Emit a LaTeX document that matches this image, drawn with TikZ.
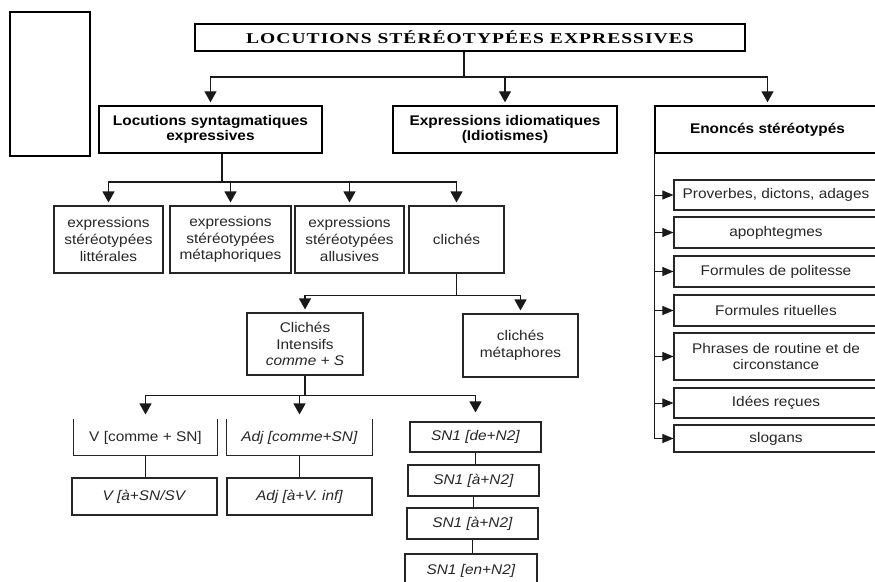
\documentclass[tikz,border=0pt]{standalone}
\usepackage{fontspec}
\setmainfont{Liberation Sans}[FakeStretch=1.1]
\newfontfamily\titrefont{Liberation Serif}[FakeStretch=1.3,LetterSpace=7]
\usetikzlibrary{arrows.meta}

\tikzset{
  trait/.style={line width=1.2pt, draw=black!90},
  arr/.style={trait, -{Triangle[width=12pt,length=11pt]}, shorten >=3pt},
  sarr/.style={line width=0.9pt, draw=black!90, -{Triangle[width=9pt,length=11pt]}},
  box/.style={draw=black!85, line width=1.1pt, align=center, inner sep=1pt,
    text=black!85, font=\fontsize{14}{16.7}\selectfont},
  topbox/.style={box, draw=black, line width=1.4pt, minimum height=47pt, text=black,
    font=\bfseries\fontsize{14}{15.7}\selectfont},
  listbox/.style={box, minimum width=204pt},
  nobox/.style={box, draw=none}
}

\begin{document}
\begin{tikzpicture}[x=1pt, y=-1pt]
  \useasboundingbox (0,0) rectangle (875,581);
  % cadre vide et titre
  \node[draw, line width=1.4pt, minimum width=80pt, minimum height=144pt] (vide) at (50,84) {};
  \node[draw, line width=2pt, minimum width=550pt, minimum height=27pt,
    font=\titrefont\bfseries\fontsize{15}{16}\selectfont] (titre) at (470,37.5)
    {LOCUTIONS STÉRÉOTYPÉES EXPRESSIVES};

  % premier niveau
  \node[topbox, minimum width=223pt] (synt) at (210.5,129.5) {Locutions syntagmatiques\\expressives};
  \node[topbox, minimum width=224pt] (idio) at (505,129.5) {Expressions idiomatiques\\(Idiotismes)};
  \node[topbox, minimum width=225pt] (enon) at (767.5,129.5) {Enoncés stéréotypés};

  % locutions syntagmatiques
  \node[box, minimum width=109pt, minimum height=67pt] (litt) at (108.5,239.5) {expressions\\stéréotypées\\littérales};
  \node[box, minimum width=121pt, minimum height=67pt] (meta) at (230.5,239.5) {expressions\\stéréotypées\\métaphoriques};
  \node[box, minimum width=109pt, minimum height=67pt] (allu) at (349.5,239.5) {expressions\\stéréotypées\\allusives};
  \node[box, minimum width=95pt, minimum height=67pt] (clic) at (456.5,239.5) {clichés};

  % clichés
  \node[box, minimum width=116pt, minimum height=62pt] (inte) at (305,344) {Clichés\\Intensifs\\\textit{comme + S}};
  \node[box, minimum width=115pt, minimum height=63pt] (cmet) at (520.5,345.5) {clichés\\métaphores};

  % clichés intensifs
  \node[nobox, minimum width=143pt, minimum height=35pt] (vcom) at (145.5,437.5) {V [comme + SN]};
  \node[nobox, minimum width=145pt, minimum height=35pt] (acom) at (299.5,437.5) {\textit{Adj [comme+SN]}};
  \node[box, minimum width=145pt, minimum height=37pt] (vinf) at (144.5,496.5) {\textit{V [à+SN/SV}};
  \node[box, minimum width=145pt, minimum height=37pt] (ainf) at (299.5,496.5) {\textit{Adj [à+V. inf]}};
  \node[box, minimum width=131pt, minimum height=30pt] (sna) at (475.5,437) {\textit{SN1 [de+N2]}};
  \node[box, minimum width=131pt, minimum height=31pt] (snb) at (473.5,480.5) {\textit{SN1 [à+N2]}};
  \node[box, minimum width=131pt, minimum height=31pt] (snc) at (472.5,523.5) {\textit{SN1 [à+N2]}};
  \node[box, minimum width=132pt, minimum height=34pt] (snd) at (471,571) {\textit{SN1 [en+N2]}};
  \draw[draw=black!85, line width=1.1pt] (vcom.north west) -- (vcom.south west) -- (vcom.south east) -- (vcom.north east);
  \draw[draw=black!85, line width=1.1pt] (acom.north west) -- (acom.south west) -- (acom.south east) -- (acom.north east);

  % énoncés stéréotypés
  \node[listbox, minimum height=30pt] (prov) at (776,195) {Proverbes, dictons, adages};
  \node[listbox, minimum height=31pt] (apop) at (776,232.5) {apophtegmes};
  \node[listbox, minimum height=31pt] (poli) at (776,271.5) {Formules de politesse};
  \node[listbox, minimum height=31pt] (ritu) at (776,310.5) {Formules rituelles};
  \node[listbox, minimum height=47pt] (phra) at (776,356.5) {Phrases de routine et de\\circonstance};
  \node[listbox, minimum height=30pt] (idee) at (776,403) {Idées reçues};
  \node[listbox, minimum height=27pt] (slog) at (776,438.5) {slogans};

  % connecteurs
  \coordinate (t0) at (464,77);
  \draw[trait] (titre.south -| t0) -- (t0);
  \foreach \n in {synt,idio,enon}
    \draw[arr] (t0) -| (\n.north);
  \coordinate (s0) at (222,182);
  \draw[trait] (synt.south -| s0) -- (s0);
  \foreach \n in {litt,meta,allu,clic}
    \draw[arr] (s0) -| (\n.north);
  \draw[trait] (clic.south) -- ++(0,22) coordinate (c0);
  \foreach \n in {inte,cmet}
    \draw[arr] (c0) -| (\n.north);
  \draw[trait] (inte.south) -- ++(0,20) coordinate (i0);
  \foreach \n/\s in {vcom/5pt,acom/5pt,sna/9pt}
    \draw[arr, shorten >=\s] (i0) -| (\n.north);
  \draw[trait, line width=1pt] (vcom.south) -- (vcom.south |- vinf.north);
  \draw[trait, line width=1pt] (acom.south) -- (acom.south |- ainf.north);
  \draw[trait, line width=1pt] (sna.south) -- (sna.south |- snb.north);
  \draw[trait, line width=1pt] (snb.south) -- (snb.south |- snc.north);
  \draw[trait, line width=1pt] (snc.south) -- (snc.south |- snd.north);
  \draw[trait] (enon.south west) -- (enon.south west |- slog.west);
  \foreach \n in {prov,apop,poli,ritu,phra,idee,slog}
    \draw[sarr] (enon.south west |- \n.west) -- (\n.west);
\end{tikzpicture}
\end{document}
